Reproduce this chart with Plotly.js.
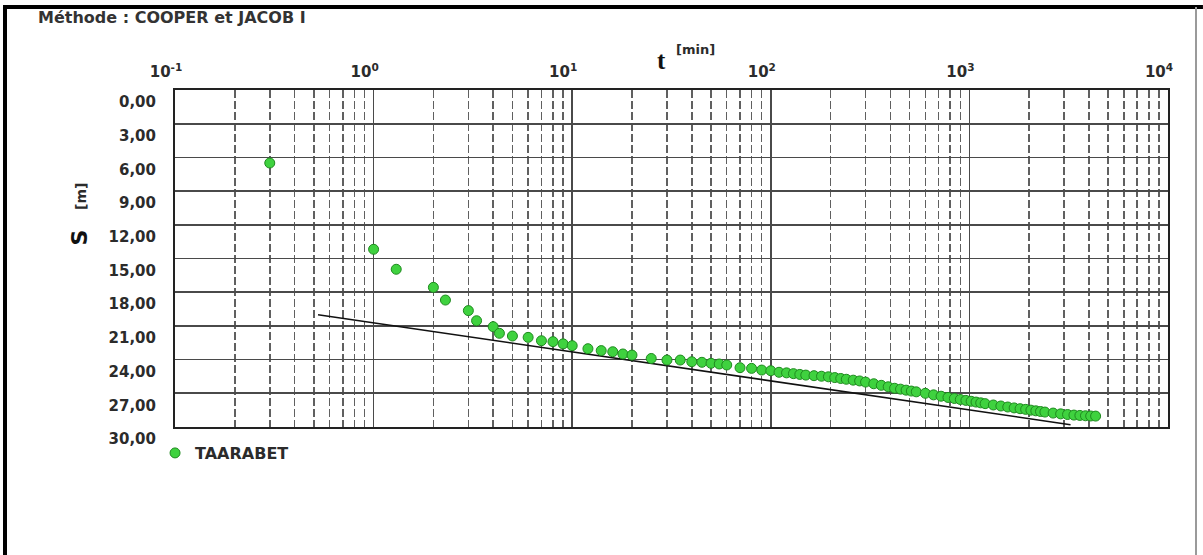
<!DOCTYPE html>
<html>
<head>
<meta charset="utf-8">
<script src="https://cdn.plot.ly/plotly-3.0.1.min.js"></script>
<style>
  html, body { margin: 0; padding: 0; background: #ffffff; }
  #chart { width: 1203px; height: 555px; }
</style>
</head>
<body>
<div id="chart"></div>
<script>
// ---- data ----
const seriesName = "TAARABET";
const timeMin = [0.3, 1, 1.3, 2, 2.3, 3, 3.3, 4, 4.3, 5,
  6, 7, 8, 9, 10, 12, 14, 16, 18, 20,
  25, 30, 35, 40, 45, 50, 55, 60, 70, 80,
  90, 100, 110, 120, 130, 140, 150, 165, 180, 195,
  210, 225, 240, 260, 280, 300, 330, 360, 390, 420,
  450, 480, 510, 540, 600, 660, 720, 780, 840, 900,
  960, 1020, 1080, 1140, 1200, 1320, 1440, 1560, 1680, 1800,
  1920, 2040, 2160, 2280, 2400, 2640, 2880, 3120, 3360, 3600,
  3840, 4080, 4320];
const drawdownM = [6.5, 14.18, 15.96, 17.57, 18.70, 19.64, 20.54, 21.07, 21.66, 21.90,
  22.02, 22.32, 22.40, 22.60, 22.76, 23.03, 23.20, 23.30, 23.50, 23.60,
  23.90, 24.04, 24.04, 24.19, 24.24, 24.33, 24.39, 24.48, 24.72, 24.78,
  24.93, 24.99, 25.13, 25.18, 25.25, 25.32, 25.38, 25.43, 25.48, 25.53,
  25.60, 25.68, 25.75, 25.83, 25.90, 26.00, 26.15, 26.29, 26.42, 26.55,
  26.63, 26.72, 26.80, 26.87, 27.00, 27.14, 27.26, 27.37, 27.46, 27.55,
  27.63, 27.71, 27.78, 27.85, 27.92, 28.04, 28.13, 28.22, 28.30, 28.37,
  28.43, 28.50, 28.56, 28.62, 28.67, 28.76, 28.83, 28.89, 28.94, 28.97,
  29.00, 29.02, 29.03];
const lineTime = [0.525, 3230];
const lineDrawdown = [20.0, 29.8];

const xTickVals = [0.1, 1, 10, 100, 1000, 10000];
const xTickText = ["10<sup>-1</sup>", "10<sup>0</sup>", "10<sup>1</sup>", "10<sup>2</sup>", "10<sup>3</sup>", "10<sup>4</sup>"];
const yTickVals = [0, 3, 6, 9, 12, 15, 18, 21, 24, 27, 30];
const yTickText = ["0,00", "3,00", "6,00", "9,00", "12,00", "15,00", "18,00", "21,00", "24,00", "27,00", "30,00"];
const minorMultipliers = [2, 3, 4, 5, 6, 7, 8, 9];
const decades = [0.1, 1, 10, 100, 1000];

const minorTickVals = [];
decades.forEach(d => minorMultipliers.forEach(m => minorTickVals.push(+(d * m).toPrecision(3))));

const FONT = "DejaVu Sans, Arial, sans-serif";
const TXT = "#2b2b2b";

const traces = [
  {
    x: lineTime, y: lineDrawdown, type: "scatter", mode: "lines",
    line: { color: "#111111", width: 1.6 },
    showlegend: false, hoverinfo: "skip"
  },
  {
    x: timeMin, y: drawdownM, type: "scatter", mode: "markers",
    name: seriesName,
    marker: { color: "#3fd23f", size: 10, line: { color: "#1f8a1f", width: 1 } }
  }
];

const layout = {
  width: 1203, height: 555,
  margin: { l: 175, r: 35, t: 90, b: 128 },
  paper_bgcolor: "#ffffff", plot_bgcolor: "#ffffff",
  font: { family: FONT, color: TXT },
  xaxis: {
    type: "log", range: [-1, 4], side: "top",
    tickmode: "array", tickvals: xTickVals, ticktext: xTickText,
    tickfont: { family: FONT, size: 15, color: TXT, weight: "bold" },
    ticks: "", ticklabelshift: -9, ticklabelstandoff: 5,
    showgrid: true, gridcolor: "#4a4a4a", gridwidth: 1.6,
    minor: { tickmode: "array", tickvals: minorTickVals, showgrid: true,
             gridcolor: "#606060", gridwidth: 1.5, griddash: "8px,3px", ticks: "" },
    showline: true, mirror: true, linecolor: "#222222", linewidth: 2,
    zeroline: false, fixedrange: true
  },
  yaxis: {
    range: [30, 0],
    tickmode: "array", tickvals: yTickVals, ticktext: yTickText,
    tickfont: { family: FONT, size: 15, color: TXT, weight: "bold" },
    ticks: "", ticklabelshift: -12, ticklabelstandoff: 14,
    showgrid: true, gridcolor: "#4a4a4a", gridwidth: 1.6,
    showline: true, mirror: true, linecolor: "#222222", linewidth: 2,
    zeroline: false, fixedrange: true
  },
  showlegend: true,
  legend: {
    x: -0.0201, xanchor: "left", y: -0.0772, yanchor: "middle",
    bgcolor: "rgba(0,0,0,0)", borderwidth: 0,
    font: { family: FONT, size: 16, color: TXT, weight: "bold" },
    itemwidth: 30
  },
  annotations: [
    { text: "<b>Méthode : COOPER et JACOB I</b>", xref: "paper", yref: "paper",
      x: -0.14, y: 1.2166, xanchor: "left", yanchor: "middle", showarrow: false,
      font: { family: FONT, size: 16, color: "#333333" } },
    { text: "<b>t</b>", xref: "paper", yref: "paper",
      x: 0.4904, y: 1.089, xanchor: "center", yanchor: "middle", showarrow: false,
      font: { family: "Liberation Serif, Times New Roman, serif", size: 25, color: "#111111" } },
    { text: "<b>[min]</b>", xref: "paper", yref: "paper",
      x: 0.5237, y: 1.1187, xanchor: "center", yanchor: "middle", showarrow: false,
      font: { family: FONT, size: 13, color: TXT } },
    { text: "<b>S</b>", xref: "paper", yref: "paper", textangle: -90,
      x: -0.0957, y: 0.5623, xanchor: "center", yanchor: "middle", showarrow: false,
      font: { family: FONT, size: 22, color: "#111111" } },
    { text: "<b>[m]</b>", xref: "paper", yref: "paper", textangle: -90,
      x: -0.0947, y: 0.6855, xanchor: "center", yanchor: "middle", showarrow: false,
      font: { family: FONT, size: 14, color: TXT } }
  ],
  shapes: [
    { type: "line", xref: "paper", yref: "paper", x0: -0.1732, x1: 1.0352, y0: 1.2463, y1: 1.2463,
      line: { color: "#000000", width: 4 } },
    { type: "line", xref: "paper", yref: "paper", x0: -0.1712, x1: -0.1712, y0: 1.2463, y1: -0.3798,
      line: { color: "#000000", width: 4 } },
    { type: "line", xref: "paper", yref: "paper", x0: 1.0282, x1: 1.0282, y0: 1.2463, y1: -0.3798,
      line: { color: "#9a9a9a", width: 2 } }
  ]
};

Plotly.newPlot("chart", traces, layout, { displayModeBar: false, staticPlot: true });
</script>
</body>
</html>
